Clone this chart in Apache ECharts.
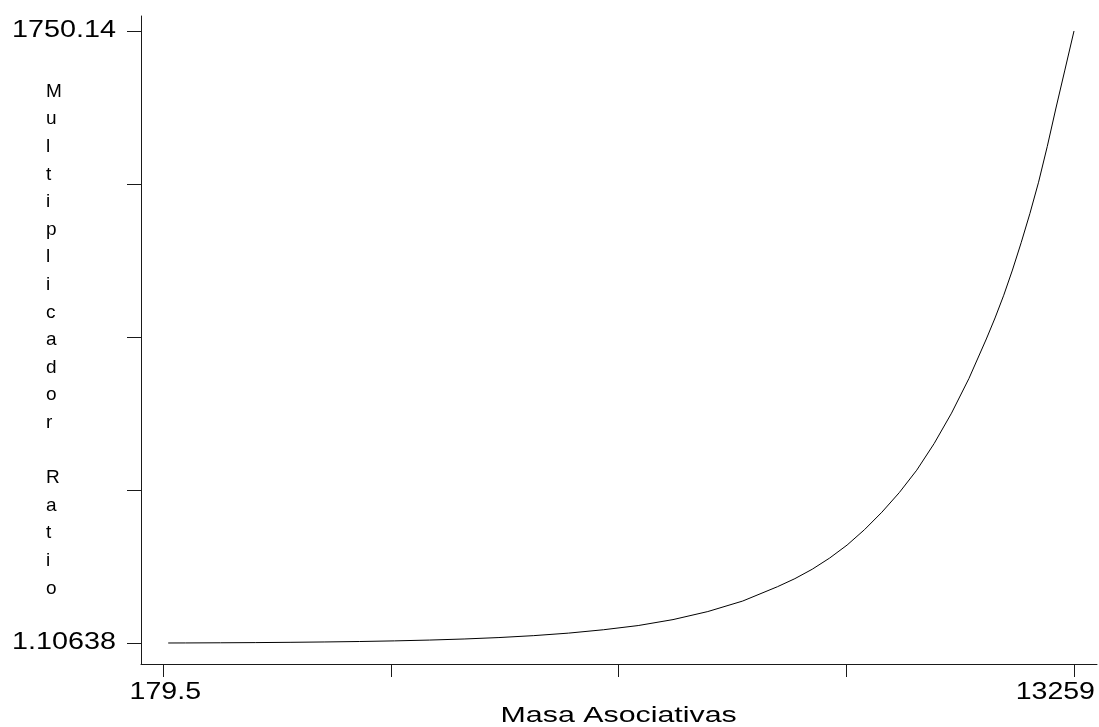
<!DOCTYPE html>
<html>
<head>
<meta charset="utf-8">
<script src="https://cdn.jsdelivr.net/npm/echarts@6/dist/echarts.min.js"></script>
<style>
  html, body { margin: 0; padding: 0; background: #ffffff; }
  #chart { width: 1099px; height: 727px; }
</style>
</head>
<body>
<div id="chart"></div>
<script>
// Multiplicador Ratio against Masa Asociativas
const masa = [250, 500, 1000, 1500, 2000, 2500, 3000, 3500, 4000, 4500, 5000, 5500,
              6000, 6500, 7000, 7500, 8000, 8500, 9000, 9250, 9500, 9750, 10000,
              10250, 10500, 10750, 11000, 11250, 11500, 11750, 12000, 12125, 12250,
              12375, 12500, 12625, 12750, 12875, 13000, 13125, 13259];
const ratio = [1.15, 1.3, 1.76, 2.3, 3.1, 4.1, 5.4, 7.2, 9.5, 12.6, 16.7, 22.2,
               29.4, 39, 51, 68, 91, 121, 162, 185, 212, 244, 281,
               325, 375, 431, 495, 571, 658, 757, 870, 930, 995,
               1067, 1145, 1228, 1318, 1420, 1530, 1636, 1750.14];

const xTicks = [179.5, 3449.375, 6719.25, 9989.125, 13259];
const xTickLabels = ['179.5', '', '', '', '13259'];
const yTicks = [1.10638, 438.36478, 875.62319, 1312.88159, 1750.14];
const yTickLabels = ['1.10638', '', '', '', '1750.14'];

const xTitle = 'Masa Asociativas';
const yTitle = 'Multiplicador Ratio';

const FONT = '"Liberation Sans", Arial, Helvetica, sans-serif';
const INK = '#1a1a1a';

const chart = echarts.init(document.getElementById('chart'), null, { renderer: 'canvas' });

chart.setOption({
  animation: false,
  backgroundColor: '#ffffff',
  grid: { left: 141, right: 2, top: 16, bottom: 63, containLabel: false },
  xAxis: {
    type: 'value',
    min: -140.8,
    max: 13589.3,
    axisLine: { show: true, onZero: false, lineStyle: { color: INK, width: 1 } },
    axisTick: { show: true, inside: false, length: 13, customValues: xTicks,
                lineStyle: { color: INK, width: 1 } },
    axisLabel: { show: false },
    splitLine: { show: false }
  },
  yAxis: {
    type: 'value',
    min: -58.875,
    max: 1792.984,
    axisLine: { show: true, onZero: false, lineStyle: { color: INK, width: 1 } },
    axisTick: { show: true, inside: false, length: 14, customValues: yTicks,
                lineStyle: { color: INK, width: 1 } },
    axisLabel: { show: false },
    splitLine: { show: false }
  },
  series: [{
    type: 'line',
    data: masa.map((m, i) => [m, ratio[i]]),
    showSymbol: false,
    smooth: false,
    lineStyle: { color: '#000000', width: 1 }
  }]
});

// Tick labels and titles, drawn in a horizontally widened face
const toPx = (x, y) => chart.convertToPixel({ gridIndex: 0 }, [x, y]);
const graphics = [];
const W = chart.getWidth();

yTicks.forEach((v, i) => {
  if (!yTickLabels[i]) return;
  const p = toPx(masa[0], v);
  graphics.push({
    type: 'text', x: 116, y: p[1], scaleX: 1.25,
    style: { text: yTickLabels[i], font: '23px ' + FONT, fill: '#000',
             textAlign: 'right', textVerticalAlign: 'middle' }
  });
});

xTicks.forEach((v, i) => {
  if (!xTickLabels[i]) return;
  const p = toPx(v, yTicks[0]);
  const approxW = xTickLabels[i].length * 12.8 * 1.24;
  let cx = p[0] + 2;
  if (cx + approxW / 2 > W - 4) cx = W - 4 - approxW / 2;
  graphics.push({
    type: 'text', x: cx, y: 693, scaleX: 1.24,
    style: { text: xTickLabels[i], font: '23px ' + FONT, fill: '#000',
             textAlign: 'center', textVerticalAlign: 'middle' }
  });
});

const xMid = (toPx(xTicks[0], 0)[0] + toPx(xTicks[xTicks.length - 1], 0)[0]) / 2;
graphics.push({
  type: 'text', x: xMid, y: 715.5, scaleX: 1.38,
  style: { text: xTitle, font: '22px ' + FONT, fill: '#000',
           textAlign: 'center', textVerticalAlign: 'middle' }
});

graphics.push({
  type: 'text', x: 46, y: 340,
  style: { text: yTitle.split('').join('\n'), font: '19px ' + FONT, fill: '#000',
           lineHeight: 27.6, textAlign: 'left', textVerticalAlign: 'middle' }
});

chart.setOption({ graphic: graphics });
</script>
</body>
</html>
